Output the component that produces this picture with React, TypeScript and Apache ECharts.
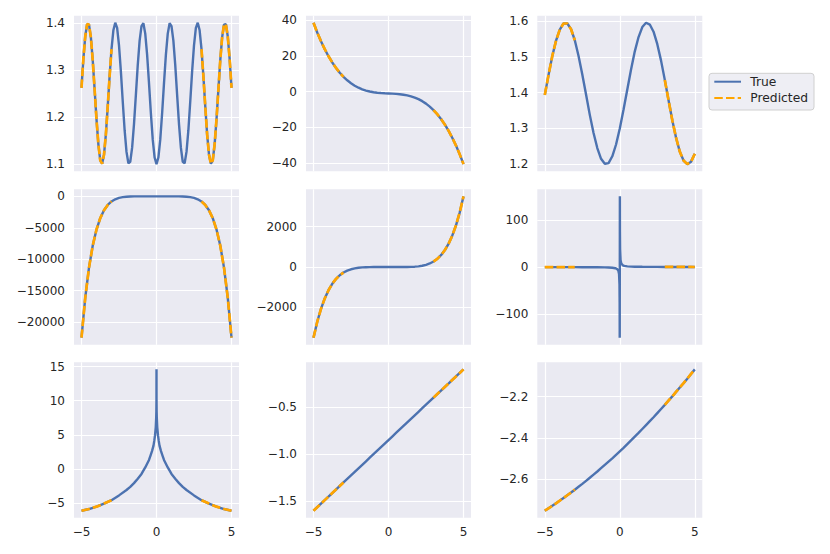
import React, { useEffect, useRef } from 'react';
import * as echarts from 'echarts';

// ---------- x samples ----------
const X_FINE = [-5, -4.875, -4.75, -4.625, -4.5, -4.375, -4.25, -4.125, -4, -3.875, -3.75, -3.625, -3.5, -3.375, -3.25, -3.125, -3, -2.875, -2.75, -2.625, -2.5, -2.375, -2.25, -2.125, -2, -1.875, -1.75, -1.625, -1.5, -1.375, -1.25, -1.125, -1, -0.875, -0.75, -0.625, -0.5, -0.375, -0.25, -0.125, 0, 0.125, 0.25, 0.375, 0.5, 0.625, 0.75, 0.875, 1, 1.125, 1.25, 1.375, 1.5, 1.625, 1.75, 1.875, 2, 2.125, 2.25, 2.375, 2.5, 2.625, 2.75, 2.875, 3, 3.125, 3.25, 3.375, 3.5, 3.625, 3.75, 3.875, 4, 4.125, 4.25, 4.375, 4.5, 4.625, 4.75, 4.875, 5];
const X_GRID = [-5, -4.75, -4.5, -4.25, -4, -3.75, -3.5, -3.25, -3, -2.75, -2.5, -2.25, -2, -1.75, -1.5, -1.25, -1, -0.75, -0.5, -0.25, 0, 0.25, 0.5, 0.75, 1, 1.25, 1.5, 1.75, 2, 2.25, 2.5, 2.75, 3, 3.25, 3.5, 3.75, 4, 4.25, 4.5, 4.75, 5];
const X_RECIP = [-5, -4.5, -4, -3.5, -3, -2.5, -2, -1.5, -1, -0.75, -0.5, -0.3, -0.2, -0.1, -0.05, -0.02, -0.01, -0.005, 0.005, 0.01, 0.02, 0.05, 0.1, 0.2, 0.3, 0.5, 0.75, 1, 1.5, 2, 2.5, 3, 3.5, 4, 4.5, 5];
const X_CUSP = [-5, -4.5, -4, -3.5, -3, -2.5, -2, -1.75, -1.5, -1.25, -1, -0.75, -0.5, -0.4, -0.3, -0.2, -0.15, -0.1, -0.05, -0.02, -0.01, -0.002, 0, 0.002, 0.01, 0.02, 0.05, 0.1, 0.15, 0.2, 0.3, 0.4, 0.5, 0.75, 1, 1.25, 1.5, 1.75, 2, 2.5, 3, 3.5, 4, 4.5, 5];

// ---------- y values (true curves) ----------
const Y_P1 = [1.262, 1.324, 1.371, 1.397, 1.396, 1.369, 1.320, 1.258, 1.195, 1.142, 1.108, 1.101, 1.120, 1.163, 1.223, 1.287, 1.344, 1.384, 1.400, 1.389, 1.352, 1.297, 1.233, 1.172, 1.126, 1.102, 1.105, 1.135, 1.185, 1.247, 1.310, 1.362, 1.393, 1.399, 1.377, 1.332, 1.272, 1.208, 1.152, 1.114, 1.100, 1.114, 1.152, 1.208, 1.272, 1.332, 1.377, 1.399, 1.393, 1.362, 1.310, 1.247, 1.185, 1.135, 1.105, 1.102, 1.126, 1.172, 1.233, 1.297, 1.352, 1.389, 1.400, 1.384, 1.344, 1.287, 1.223, 1.163, 1.120, 1.101, 1.108, 1.142, 1.195, 1.258, 1.320, 1.369, 1.396, 1.397, 1.371, 1.324, 1.262];
const Y_P2 = [38.5, 33.05, 28.14, 23.73, 19.8, 16.32, 13.263, 10.598, 8.3, 6.339, 4.688, 3.317, 2.2, 1.308, 0.613, 0.086, -0.3, -0.573, -0.762, -0.895, -1, -1.105, -1.238, -1.427, -1.7, -2.086, -2.613, -3.308, -4.2, -5.317, -6.688, -8.339, -10.3, -12.598, -15.263, -18.32, -21.8, -25.73, -30.14, -35.05, -40.5];
const Y_P3 = [1.394, 1.450, 1.503, 1.546, 1.577, 1.594, 1.594, 1.578, 1.547, 1.503, 1.451, 1.395, 1.338, 1.287, 1.245, 1.215, 1.201, 1.203, 1.222, 1.255, 1.300, 1.353, 1.409, 1.465, 1.516, 1.556, 1.584, 1.596, 1.591, 1.571, 1.536, 1.490, 1.436, 1.379, 1.323, 1.274, 1.235, 1.210, 1.200, 1.207, 1.229];
const Y_P4 = [-22500, -16120, -11343, -7825, -5276, -3468, -2215, -1368, -813, -462, -249, -125, -58.3, -24.5, -9, -2.75, -0.64, -0.1, -0.01, 0, 0, 0, -0.01, -0.1, -0.64, -2.75, -9, -24.5, -58.3, -125, -249, -462, -813, -1368, -2215, -3468, -5276, -7825, -11343, -16120, -22500];
const Y_P5 = [-3500, -2708.7, -2066.7, -1553.2, -1146.9, -830.6, -588.2, -406.1, -272.2, -176.2, -109.4, -64.6, -35.8, -18.4, -8.5, -3.42, -1.12, -0.27, -0.035, -0.001, 0, 0.001, 0.035, 0.27, 1.12, 3.42, 8.5, 18.4, 35.8, 64.6, 109.4, 176.2, 272.2, 406.1, 588.2, 830.6, 1146.9, 1553.2, 2066.7, 2708.7, 3500];
const Y_P6 = [-0.15, -0.1667, -0.1875, -0.2143, -0.25, -0.3, -0.375, -0.5, -0.75, -1, -1.5, -2.5, -3.75, -7.5, -15, -37.5, -75, -150, 150, 75, 37.5, 15, 7.5, 3.75, 2.5, 1.5, 1, 0.75, 0.5, 0.375, 0.3, 0.25, 0.2143, 0.1875, 0.1667, 0.15];
const Y_P7 = [-6.15, -5.9, -5.55, -5.1, -4.6, -3.9, -3.1, -2.65, -2.1, -1.45, -0.75, 0.2, 1.3, 1.95, 2.6, 3.4, 4.1, 4.9, 6.1, 7.5, 8.4, 10.2, 14.6, 10.2, 8.4, 7.5, 6.1, 4.9, 4.1, 3.4, 2.6, 1.95, 1.3, 0.2, -0.75, -1.45, -2.1, -2.65, -3.1, -3.9, -4.6, -5.1, -5.55, -5.9, -6.15];
const Y_P8 = [-1.6, -1.5625, -1.525, -1.4875, -1.45, -1.4125, -1.375, -1.3375, -1.3, -1.2625, -1.225, -1.1875, -1.15, -1.1125, -1.075, -1.0375, -1.0, -0.9625, -0.925, -0.8875, -0.85, -0.8125, -0.775, -0.7375, -0.7, -0.6625, -0.625, -0.5875, -0.55, -0.5125, -0.475, -0.4375, -0.4, -0.3625, -0.325, -0.2875, -0.25, -0.2125, -0.175, -0.1375, -0.1];
const Y_P9 = [-2.753, -2.741, -2.729, -2.717, -2.704, -2.691, -2.678, -2.665, -2.651, -2.637, -2.623, -2.608, -2.593, -2.578, -2.563, -2.547, -2.531, -2.515, -2.499, -2.482, -2.465, -2.448, -2.430, -2.412, -2.394, -2.376, -2.357, -2.338, -2.319, -2.300, -2.280, -2.260, -2.240, -2.219, -2.199, -2.177, -2.156, -2.135, -2.113, -2.090, -2.068];

// ---------- tick labels ----------
const X_TICKS = [-5, 0, 5];
const TICKS_P1 = [1.1, 1.2, 1.3, 1.4];
const TICKS_P2 = [-40, -20, 0, 20, 40];
const TICKS_P3 = [1.2, 1.3, 1.4, 1.5, 1.6];
const TICKS_P4 = [-20000, -15000, -10000, -5000, 0];
const TICKS_P5 = [-2000, 0, 2000];
const TICKS_P6 = [-100, 0, 100];
const TICKS_P7 = [-5, 0, 5, 10, 15];
const TICKS_P8 = [-1.5, -1.0, -0.5];
const TICKS_P9 = [-2.6, -2.4, -2.2];

// predicted curve shown where |x| >= this
const PRED_FROM = 3;

const SERIES_NAMES = ['True', 'Predicted'];

const PANELS = [
  { x: X_FINE, y: Y_P1, ticks: TICKS_P1, dec: 1 },
  { x: X_GRID, y: Y_P2, ticks: TICKS_P2, dec: 0 },
  { x: X_GRID, y: Y_P3, ticks: TICKS_P3, dec: 1 },
  { x: X_GRID, y: Y_P4, ticks: TICKS_P4, dec: 0 },
  { x: X_GRID, y: Y_P5, ticks: TICKS_P5, dec: 0 },
  { x: X_RECIP, y: Y_P6, ticks: TICKS_P6, dec: 0 },
  { x: X_CUSP, y: Y_P7, ticks: TICKS_P7, dec: 0 },
  { x: X_GRID, y: Y_P8, ticks: TICKS_P8, dec: 1 },
  { x: X_GRID, y: Y_P9, ticks: TICKS_P9, dec: 1 },
];

const BLUE = '#4C72B0';
const ORANGE = '#FFA500';
const FACE = '#EAEAF2';
const TEXT = '#262626';
const FONT = 'DejaVu Sans';

const COL_LEFT = [74, 306, 537.3];
const ROW_TOP = [15.7, 189.3, 362.3];
const PW = 165;
const PH = 155.5;

const fmt = (dec: number) => (v: number) => v.toFixed(dec).replace('-', '\u2212');

export default function App() {
  const ref = useRef<HTMLDivElement>(null);
  useEffect(() => {
    if (!ref.current) return;
    const chart = echarts.init(ref.current, null, { renderer: 'svg' });
    const grid: any[] = [];
    const xAxis: any[] = [];
    const yAxis: any[] = [];
    const series: any[] = [];
    PANELS.forEach((p, i) => {
      const row = Math.floor(i / 3);
      const col = i % 3;
      grid.push({
        left: COL_LEFT[col], top: ROW_TOP[row], width: PW, height: PH,
        show: true, backgroundColor: FACE, borderWidth: 0, containLabel: false,
      });
      xAxis.push({
        type: 'value', gridIndex: i, min: -5.5, max: 5.5,
        axisLine: { show: false },
        axisTick: { show: false, customValues: X_TICKS },
        splitLine: { show: true, lineStyle: { color: '#ffffff', width: 1.2 } },
        axisLabel: {
          show: row === 2, customValues: X_TICKS, formatter: fmt(0),
          color: TEXT, fontSize: 12, fontFamily: FONT, margin: 8,
        },
      });
      yAxis.push({
        type: 'value', gridIndex: i,
        min: (v: any) => v.min - 0.05 * (v.max - v.min),
        max: (v: any) => v.max + 0.05 * (v.max - v.min),
        axisLine: { show: false },
        axisTick: { show: false, customValues: p.ticks },
        splitLine: { show: true, lineStyle: { color: '#ffffff', width: 1.2 } },
        axisLabel: {
          show: true, customValues: p.ticks, formatter: fmt(p.dec),
          color: TEXT, fontSize: 12, fontFamily: FONT, margin: 9,
        },
      });
      const pts = p.x.map((xv, j) => [xv, p.y[j]]);
      series.push({
        name: SERIES_NAMES[0], type: 'line', xAxisIndex: i, yAxisIndex: i,
        data: pts, symbol: 'none', showSymbol: false, smooth: false,
        lineStyle: { color: BLUE, width: 2.4 }, itemStyle: { color: BLUE },
        z: 2, silent: true,
      });
      const left = pts.filter((q) => q[0] <= -PRED_FROM);
      const right = pts.filter((q) => q[0] >= PRED_FROM);
      [left, right].forEach((seg) => {
        series.push({
          name: SERIES_NAMES[1], type: 'line', xAxisIndex: i, yAxisIndex: i,
          data: seg, symbol: 'none', showSymbol: false, smooth: false,
          lineStyle: { color: ORANGE, width: 2.7, type: [8.5, 3.2] },
          itemStyle: { color: ORANGE }, z: 3, silent: true,
        });
      });
    });
    chart.setOption({
      animation: false,
      backgroundColor: '#ffffff',
      textStyle: { fontFamily: FONT },
      grid, xAxis, yAxis, series,
      legend: {
        data: SERIES_NAMES,
        orient: 'vertical',
        left: 709, top: 73.3,
        itemWidth: 26.7, itemHeight: 14, itemGap: 4.3,
        padding: [2.4, 6, 6, 4.3],
        backgroundColor: '#EEEEF4',
        borderColor: '#D0D0D0', borderWidth: 1, borderRadius: 3,
        selectedMode: false,
        itemStyle: { opacity: 0 },
        textStyle: { fontSize: 12.3, color: TEXT, fontFamily: FONT, padding: [0, 0, 0, 4.3] },
      },
    });
    return () => chart.dispose();
  }, []);
  return (
    <div
      ref={ref}
      style={{ position: 'fixed', left: 0, top: 0, width: 830, height: 554 }}
    />
  );
}
